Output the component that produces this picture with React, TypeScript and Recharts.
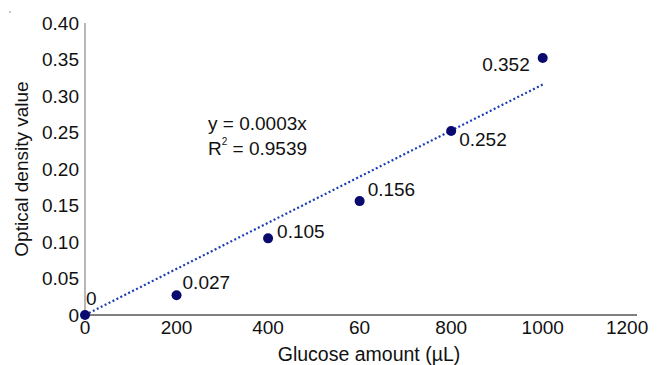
import React from "react";
import { ComposedChart, Scatter, Line, XAxis, YAxis } from "recharts";

const xValues = [0, 200, 400, 600, 800, 1000];
const yValues = [0, 0.027, 0.105, 0.156, 0.252, 0.352];
const pointLabels = ["0", "0.027", "0.105", "0.156", "0.252", "0.352"];
const trendX = [0, 1000];
const trendY = [0, 0.3157];
const xTicks = [0, 200, 400, 600, 800, 1000, 1200];
const xTickLabels = ["0", "200", "400", "60", "800", "1000", "1200"];
const yTicks = [0, 0.05, 0.1, 0.15, 0.2, 0.25, 0.3, 0.35, 0.4];
const yTickLabels = ["0", "0.05", "0.10", "0.15", "0.20", "0.25", "0.30", "0.35", "0.40"];
const equationText = "y = 0.0003x";
const r2Value = "0.9539";
const xTitle = "Glucose amount (\u00b5L)";
const yTitle = "Optical density value";

const FONT = "'Liberation Sans', Arial, Helvetica, sans-serif";
const W = 641;
const H = 357;
const labelPlacement = [
  { dx: 1, dy: -10, anchor: "start" },
  { dx: 6, dy: -6, anchor: "start" },
  { dx: 9, dy: 0, anchor: "start" },
  { dx: 8, dy: -5, anchor: "start" },
  { dx: 8, dy: 15, anchor: "start" },
  { dx: -13, dy: 13, anchor: "end" },
];

const scatterData = xValues.map((x, i) => ({ x, y: yValues[i], label: pointLabels[i] }));
const trendData = trendX.map((x, i) => ({ x, y: trendY[i] }));

const PointShape = (props: any) => {
  const { cx, cy, index, payload } = props;
  const p = labelPlacement[index] || labelPlacement[0];
  return (
    <g>
      <circle cx={cx} cy={cy} r={5} fill="#0a0a6e" />
      <text x={cx + p.dx} y={cy + p.dy} textAnchor={p.anchor} fontSize={19} fontFamily={FONT} fill="#111">
        {payload.label}
      </text>
    </g>
  );
};

const XTick = (props: any) => {
  const { x, y, payload, index } = props;
  const label = xTickLabels[xTicks.indexOf(payload.value)];
  const isLast = index === xTicks.length - 1;
  return (
    <text
      x={isLast ? x + 14 : x}
      y={y + 19}
      textAnchor={isLast ? "end" : "middle"}
      fontSize={19}
      fontFamily={FONT}
      fill="#111"
    >
      {label}
    </text>
  );
};

export default function App() {
  return (
    <div style={{ position: "relative", width: W, height: H }}>
      <ComposedChart width={W} height={H} margin={{ top: 15, right: 12, left: 17, bottom: 0 }}>
        <XAxis
          type="number"
          dataKey="x"
          domain={[0, 1206]}
          ticks={xTicks}
          tickLine={false}
          tickSize={0}
          tickMargin={0}
          axisLine={{ stroke: "#000", strokeWidth: 1 }}
          tick={<XTick />}
          height={50}
          interval={0}
        />
        <YAxis
          type="number"
          dataKey="y"
          domain={[0, 0.4]}
          ticks={yTicks}
          tickFormatter={(v: number) => yTickLabels[yTicks.findIndex((t) => Math.abs(t - v) < 1e-9)]}
          tickLine={false}
          tickSize={0}
          tickMargin={6}
          axisLine={{ stroke: "#a0a0a0", strokeWidth: 1.5 }}
          tick={{ fill: "#111", fontSize: 19, fontFamily: FONT }}
          width={60}
          interval={0}
          label={{
            content: (p: any) => {
              const vb = p.viewBox || {};
              const cy = (vb.y ?? 15) + (vb.height ?? 292) / 2;
              return (
                <text
                  x={13}
                  y={cy}
                  transform={`rotate(-90 13 ${cy})`}
                  textAnchor="middle"
                  dominantBaseline="central"
                  fontSize={19}
                  fontFamily={FONT}
                  fill="#111"
                >
                  {yTitle}
                </text>
              );
            },
          }}
        />
        <Line
          data={trendData}
          dataKey="y"
          type="linear"
          stroke="#1a3cb4"
          strokeWidth={2.2}
          strokeDasharray="2 2.4"
          dot={false}
          activeDot={false}
          isAnimationActive={false}
        />
        <Scatter data={scatterData} dataKey="y" shape={PointShape} isAnimationActive={false} />
      </ComposedChart>
      <svg
        width={W}
        height={H}
        style={{ position: "absolute", left: 0, top: 0, pointerEvents: "none" }}
      >
        <circle cx={2} cy={4} r={0.7} fill="#666" />
        <text x={200} y={122} fontSize={19} fontFamily={FONT} fill="#111">
          {equationText}
        </text>
        <text x={200} y={147} fontSize={19} fontFamily={FONT} fill="#111">
          R
          <tspan fontSize={10} dy={-10}>2</tspan>
          <tspan dy={10}>{" = " + r2Value}</tspan>
        </text>
        <text x={361} y={353} textAnchor="middle" fontSize={19.5} fontFamily={FONT} fill="#111">
          {xTitle}
        </text>
      </svg>
    </div>
  );
}
